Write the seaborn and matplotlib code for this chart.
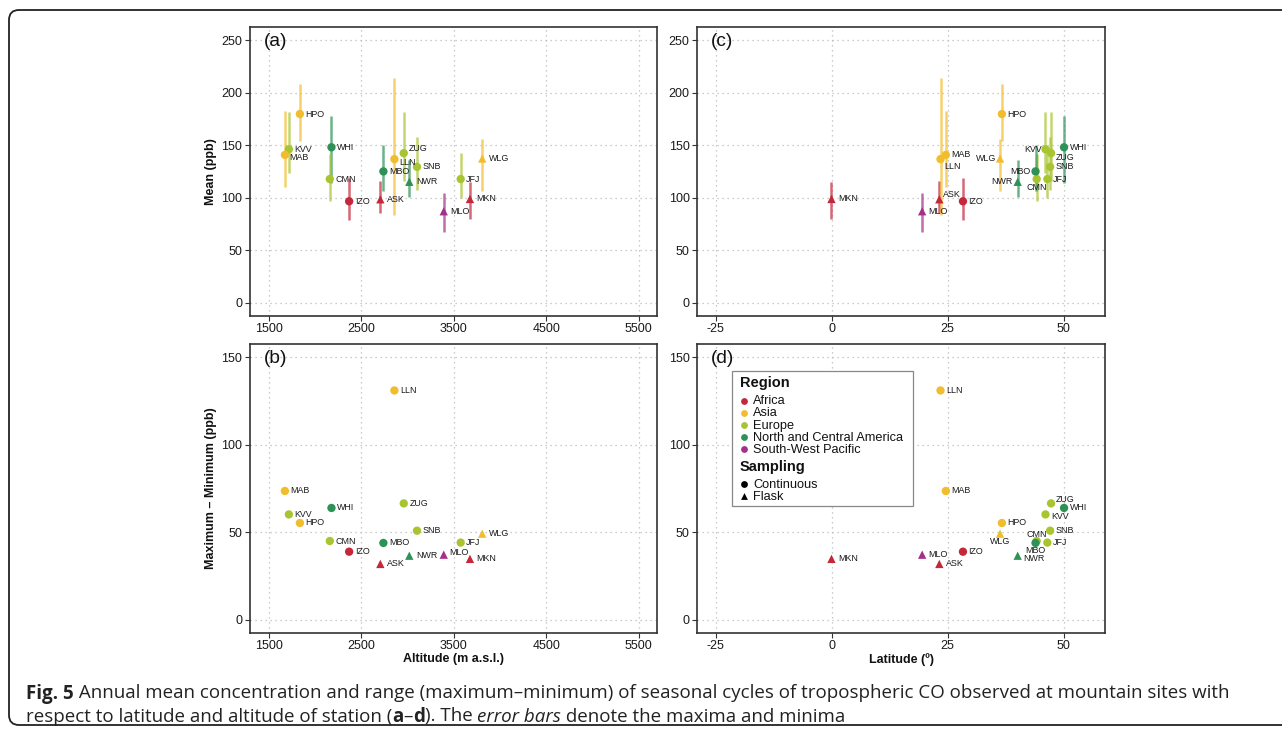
import numpy as np
import pandas as pd
import matplotlib
matplotlib.use("Agg")
import matplotlib.pyplot as plt
import seaborn as sns
from matplotlib.patches import FancyBboxPatch, Rectangle
from matplotlib.transforms import IdentityTransform

# ---------------- data ----------------
stations = ["HPO", "KVV", "MAB", "WHI", "CMN", "IZO", "ASK", "MBO",
            "LLN", "ZUG", "SNB", "NWR", "JFJ", "WLG", "MKN", "MLO"]
regions = ["Asia", "Europe", "Asia", "North and Central America", "Europe",
           "Africa", "Africa", "North and Central America", "Asia", "Europe",
           "Europe", "North and Central America", "Europe", "Asia", "Africa",
           "South-West Pacific"]
sampling = ["Continuous", "Continuous", "Continuous", "Continuous", "Continuous",
            "Continuous", "Flask", "Continuous", "Continuous", "Continuous",
            "Continuous", "Flask", "Continuous", "Flask", "Flask", "Flask"]
altitude = [1839, 1720, 1677, 2180, 2162, 2371, 2708, 2741,
            2860, 2961, 3104, 3021, 3576, 3809, 3676, 3393]
latitude = [36.7, 46.1, 24.6, 50.1, 44.2, 28.3, 23.2, 43.95,
            23.46, 47.3, 47.1, 40.1, 46.5, 36.3, -0.06, 19.5]
mean_ppb = [179.8, 146.2, 140.8, 148.1, 117.8, 96.6, 98.5, 125.1,
            136.8, 142.5, 129.4, 115.2, 117.8, 137.4, 98.8, 87.1]
max_ppb = [208.9, 182.0, 182.6, 177.9, 141.5, 118.4, 116.1, 150.3,
           214.6, 182.0, 157.9, 136.4, 142.5, 155.7, 114.6, 104.5]
min_ppb = [154.1, 123.2, 109.9, 114.5, 97.2, 79.1, 85.2, 106.6,
           83.9, 116.1, 107.6, 100.4, 99.4, 106.6, 79.8, 67.7]
range_ppb = [55.2, 60.1, 73.5, 63.8, 44.9, 38.8, 31.8, 43.8,
             130.95, 66.4, 50.8, 36.5, 44.0, 49.1, 34.7, 37.1]

region_order = ["Africa", "Asia", "Europe", "North and Central America", "South-West Pacific"]
region_colors = ["#C4283A", "#F2BD2C", "#A8C531", "#2E9257", "#A5308A"]
sampling_order = ["Continuous", "Flask"]
sampling_markers = ["o", "^"]

alt_ticks = [1500, 2500, 3500, 4500, 5500]
lat_ticks = [-25, 0, 25, 50]
mean_ticks = [0, 50, 100, 150, 200, 250]
range_ticks = [0, 50, 100, 150]

df = pd.DataFrame(dict(station=stations, region=regions, sampling=sampling,
                       altitude=altitude, latitude=latitude, mean=mean_ppb,
                       vmax=max_ppb, vmin=min_ppb, vrange=range_ppb))

palette = dict(zip(region_order, region_colors))
markers = dict(zip(sampling_order, sampling_markers))

# label offsets (pixels) per panel: (dx, dy, ha)
label_offsets = {
    "a": {"MAB": (4.7, -2.7, "left"), "LLN": (4.7, -3.7, "left"), "ZUG": (5, 4.7, "left")},
    "c": {"ASK": (4, 4.3, "left"), "LLN": (3.7, -7, "left"), "WLG": (-3.7, 0, "right"),
          "NWR": (-4.7, 0, "right"), "MBO": (-4.7, 0, "right"), "CMN": (0.3, -8.3, "center"),
          "KVV": (-3.7, -0.7, "right"), "ZUG": (4.3, -4.7, "left")},
    "b": {"MLO": (5.7, 2.3, "left")},
    "d": {"ZUG": (5, 4, "left"), "KVV": (5.7, -2.3, "left"), "WLG": (0.3, -8.3, "center"),
          "CMN": (0.3, 6.7, "center"), "MBO": (0.3, -8, "center"), "NWR": (5.3, -2.7, "left")},
}

# ---------------- style ----------------
sns.set_theme(style="ticks")
plt.rcParams["font.family"] = ["Liberation Sans", "DejaVu Sans"]

W, H = 1282, 736
fig = plt.figure(figsize=(W / 100, H / 100), dpi=100)
fig.patch.set_facecolor("white")


def px_rect(l, t, r, b):
    return [l / W, 1 - b / H, (r - l) / W, (b - t) / H]


ax_a = fig.add_axes(px_rect(250, 27.3, 657.3, 315.7))
ax_c = fig.add_axes(px_rect(697.3, 27.3, 1105.3, 315.7))
ax_b = fig.add_axes(px_rect(250, 344, 657.3, 632.7))
ax_d = fig.add_axes(px_rect(697.3, 344, 1105.3, 632.7))


def draw_panel(ax, xcol, ycol, key, letter, errorbars):
    if errorbars:
        ax.vlines(df[xcol], df["vmin"], df["vmax"],
                  colors=[palette[r] for r in df["region"]],
                  linewidth=1.8, alpha=0.7, zorder=2)
    sns.scatterplot(data=df, x=xcol, y=ycol, hue="region", style="sampling",
                    hue_order=region_order, style_order=sampling_order,
                    palette=palette, markers=markers, s=36, linewidth=0,
                    legend=False, ax=ax, zorder=3)
    offs = label_offsets[key]
    for _, row in df.iterrows():
        tri = row["sampling"] == "Flask"
        dx, dy, ha = offs.get(row["station"], (6.5 if tri else 5.5, 0, "left"))
        ax.annotate(row["station"], (row[xcol], row[ycol]), xytext=(dx, dy),
                    textcoords="offset pixels", ha=ha, va="center",
                    fontsize=6.4, color="#1a1a1a", zorder=4)
    ax.text(0.034, 0.95, letter, transform=ax.transAxes, fontsize=13.8,
            ha="left", va="center", color="#111111", zorder=6)


def style_axes(ax, xlim, xticks, ylim, yticks):
    ax.set_xlim(xlim)
    ax.set_ylim(ylim)
    ax.set_xticks(xticks)
    ax.set_yticks(yticks)
    ax.set_xticklabels([str(t) for t in xticks])
    ax.grid(True, linestyle=(0, (1, 3)), color="#BBBBBB", linewidth=0.9)
    ax.set_axisbelow(True)
    for s in ax.spines.values():
        s.set_visible(True)
        s.set_color("#333333")
        s.set_linewidth(1.2)
    ax.tick_params(direction="out", length=3.5, width=0.8, color="#333333",
                   labelsize=9, labelcolor="#1a1a1a", pad=2,
                   bottom=True, left=True, top=False, right=False)
    ax.set_xlabel("")
    ax.set_ylabel("")


draw_panel(ax_a, "altitude", "mean", "a", "(a)", True)
draw_panel(ax_c, "latitude", "mean", "c", "(c)", True)
draw_panel(ax_b, "altitude", "vrange", "b", "(b)", False)
draw_panel(ax_d, "latitude", "vrange", "d", "(d)", False)

style_axes(ax_a, (1300, 5700), alt_ticks, (-12.5, 262.5), mean_ticks)
style_axes(ax_c, (-29, 59), lat_ticks, (-12.5, 262.5), mean_ticks)
style_axes(ax_b, (1300, 5700), alt_ticks, (-7.5, 157.5), range_ticks)
style_axes(ax_d, (-29, 59), lat_ticks, (-7.5, 157.5), range_ticks)

lab_kw = dict(fontsize=9, fontweight="bold", color="#111111")
ax_a.set_ylabel("Mean (ppb)", **lab_kw)
ax_a.yaxis.set_label_coords(-0.081, 0.5)
ax_b.set_ylabel("Maximum \u2013 Minimum (ppb)", **lab_kw)
ax_b.yaxis.set_label_coords(-0.081, 0.5)
ax_b.set_xlabel("Altitude (m a.s.l.)", **lab_kw)
ax_b.xaxis.set_label_coords(0.5, -0.070)
ax_d.set_xlabel("Latitude (\u00ba)", **lab_kw)
ax_d.xaxis.set_label_coords(0.5, -0.070)

# ---------------- legend in (d), laid out in pixels of the panel ----------------
D_L, D_T, D_W, D_H = 697.3, 344.0, 408.0, 288.7


def ax_pt(px, py):
    return ((px - D_L) / D_W, 1 - (py - D_T) / D_H)


x0, y1 = ax_pt(731.7, 370.7)
x1, y0 = ax_pt(913.3, 506.0)
ax_d.add_patch(Rectangle((x0, y0), x1 - x0, y1 - y0, transform=ax_d.transAxes,
                         facecolor="white", edgecolor="#888888", linewidth=0.9,
                         zorder=5, clip_on=False))
title_kw = dict(transform=ax_d.transAxes, fontsize=10.5, fontweight="bold",
                ha="left", va="center", color="#111111", zorder=7)
item_kw = dict(transform=ax_d.transAxes, fontsize=9.2, ha="left", va="center",
               color="#111111", zorder=7)
ax_d.text(*ax_pt(740, 382.7), "Region", **title_kw)
reg_rows = [400.7, 412.7, 425.0, 437.3, 449.3]
for lab, col, ry in zip(region_order, region_colors, reg_rows):
    mx, my = ax_pt(744, ry)
    ax_d.scatter([mx], [my], s=24, color=col, marker="o", linewidths=0,
                 transform=ax_d.transAxes, zorder=7, clip_on=False)
    ax_d.text(*ax_pt(753, ry + 0.5), lab, **item_kw)
ax_d.text(*ax_pt(740, 466.7), "Sampling", **title_kw)
samp_rows = [484.0, 496.0]
for lab, mk, ry in zip(sampling_order, sampling_markers, samp_rows):
    mx, my = ax_pt(744, ry)
    ax_d.scatter([mx], [my], s=24, color="black", marker=mk, linewidths=0,
                 transform=ax_d.transAxes, zorder=7, clip_on=False)
    ax_d.text(*ax_pt(753, ry + 0.5), lab, **item_kw)

# ---------------- frame and caption ----------------
frame = FancyBboxPatch((9, H - 725), 1400, 715, boxstyle="round,pad=0,rounding_size=10",
                       transform=IdentityTransform(), facecolor="none",
                       edgecolor="#222222", linewidth=1.3)
fig.patches.append(frame)

renderer = fig.canvas.get_renderer()
cap_family = ["Open Sans", "DejaVu Sans"]
line1 = [("Fig. 5", "bold", "normal"),
         (" Annual mean concentration and range (maximum\u2013minimum) of seasonal cycles of "
          "tropospheric CO observed at mountain sites with", "normal", "normal")]
line2 = [("respect to latitude and altitude of station (", "normal", "normal"),
         ("a", "bold", "normal"), ("\u2013", "normal", "normal"), ("d", "bold", "normal"),
         ("). The ", "normal", "normal"), ("error bars", "normal", "italic"),
         (" denote the maxima and minima", "normal", "normal")]


def draw_line(segs, x, y, size):
    arts = []
    for txt, wt, st in segs:
        t = fig.text(x / W, y / H, txt, fontsize=size, family=cap_family,
                     fontweight=wt, fontstyle=st, ha="left", va="baseline",
                     color="#222222")
        bb = t.get_window_extent(renderer=renderer)
        x += bb.width
        arts.append(t)
    return arts, x


probe, xend = draw_line(line1, 26, H - 698.5, 12)
for t in probe:
    t.remove()
cap_size = 12 * (1228 - 26) / (xend - 26)
draw_line(line1, 26, H - 698.5, cap_size)
draw_line(line2, 26, H - 721.5, cap_size)

fig.savefig("out.png", dpi=100, facecolor="white")
